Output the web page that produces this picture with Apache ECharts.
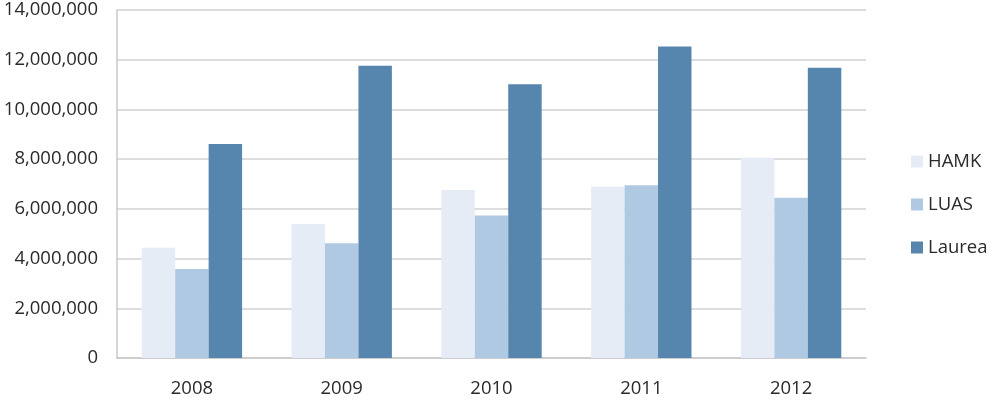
<!DOCTYPE html>
<html>
<head>
<meta charset="utf-8">
<script src="https://cdn.jsdelivr.net/npm/echarts@6/dist/echarts.min.js"></script>
<style>
  html, body { margin: 0; padding: 0; background: #fff; }
  #chart { width: 995px; height: 407px; }
</style>
</head>
<body>
<div id="chart"></div>
<script>
var years = ['2008', '2009', '2010', '2011', '2012'];
var hamk = [4440000, 5390000, 6760000, 6890000, 8060000];
var luas = [3580000, 4620000, 5730000, 6950000, 6450000];
var laurea = [8610000, 11760000, 11010000, 12530000, 11680000];

var chart = echarts.init(document.getElementById('chart'));

var font = '"Open Sans", "DejaVu Sans", sans-serif';

var option = {
    animation: false,
    textStyle: { fontFamily: font },
    grid: { left: 117, right: 129, top: 10, bottom: 49 },
    legend: {
        orient: 'vertical',
        left: 906,
        top: 147,
        itemWidth: 12,
        itemHeight: 12,
        itemGap: 24,
        icon: 'rect',
        textStyle: { fontSize: 18.5, color: '#2a2a2a', fontFamily: font },
        data: ['HAMK', 'LUAS', 'Laurea']
    },
    xAxis: {
        type: 'category',
        data: years,
        axisLine: { lineStyle: { color: '#c8c8c8', width: 1.5 } },
        axisTick: { show: false },
        axisLabel: { fontSize: 18.5, color: '#2a2a2a', margin: 21, fontFamily: font }
    },
    yAxis: {
        type: 'value',
        min: 0,
        max: 14000000,
        interval: 2000000,
        axisLine: { show: true, lineStyle: { color: '#c8c8c8', width: 1.5 } },
        axisTick: { show: false },
        splitLine: { lineStyle: { color: '#d2d2d2', width: 1.5 } },
        axisLabel: {
            fontSize: 18.5,
            color: '#2a2a2a',
            margin: 19,
            fontFamily: font,
            formatter: function (v) { return v.toLocaleString('en-US'); }
        }
    },
    series: [
        { name: 'HAMK', type: 'bar', data: hamk, barGap: '0%', barCategoryGap: '33%', itemStyle: { color: '#e6ecf5' } },
        { name: 'LUAS', type: 'bar', data: luas, itemStyle: { color: '#b0c9e2' } },
        { name: 'Laurea', type: 'bar', data: laurea, itemStyle: { color: '#5685ae' } }
    ]
};

chart.setOption(option);
</script>
</body>
</html>
